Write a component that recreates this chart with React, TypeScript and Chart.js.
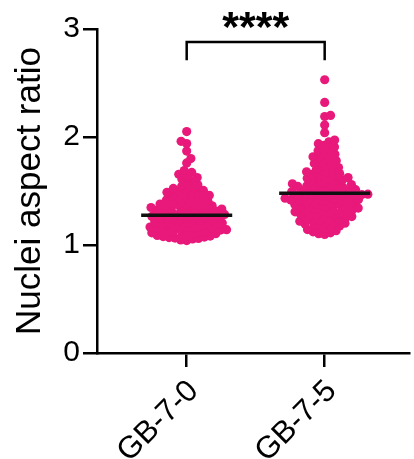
import React, { useEffect, useRef } from "react";
import { Chart, registerables } from "chart.js";

Chart.register(...registerables);

// ---------- data ----------
const categories = ["GB-7-0", "GB-7-5"];

const gb70Values = [
  1.041, 1.047, 1.056, 1.061, 1.064, 1.069, 1.073, 1.078, 1.083, 1.089, 1.095,
  1.101, 1.105, 1.108, 1.113, 1.117, 1.121, 1.125, 1.129, 1.134, 1.138, 1.142, 1.147,
  1.151, 1.155, 1.158, 1.162, 1.166, 1.171, 1.175, 1.179, 1.184, 1.188, 1.192, 1.197,
  1.203, 1.207, 1.211, 1.216, 1.220, 1.225, 1.229, 1.234, 1.238, 1.242, 1.247,
  1.252, 1.256, 1.261, 1.265, 1.270, 1.274, 1.279, 1.283, 1.288, 1.292, 1.297,
  1.302, 1.306, 1.311, 1.315, 1.320, 1.324, 1.329, 1.333, 1.338, 1.342, 1.347,
  1.353, 1.358, 1.363, 1.369, 1.374, 1.379, 1.384, 1.390, 1.395,
  1.404, 1.410, 1.417, 1.424, 1.431, 1.437, 1.444,
  1.454, 1.460, 1.467, 1.474, 1.481, 1.488, 1.495,
  1.505, 1.514, 1.524, 1.533, 1.543,
  1.558, 1.574, 1.590,
  1.608, 1.624, 1.640,
  1.655, 1.672, 1.690,
  1.76, 1.80, 1.87, 1.94, 1.96, 2.05,
];

const gb75Values = [
  1.098, 1.104, 1.113, 1.122, 1.132, 1.143,
  1.153, 1.161, 1.169, 1.177, 1.186, 1.194,
  1.202, 1.208, 1.214, 1.220, 1.227, 1.233, 1.239, 1.246,
  1.252, 1.257, 1.263, 1.268, 1.274, 1.279, 1.285, 1.290, 1.296,
  1.302, 1.307, 1.312, 1.317, 1.322, 1.327, 1.332, 1.337, 1.342, 1.347,
  1.351, 1.356, 1.361, 1.366, 1.371, 1.376, 1.381, 1.386, 1.391, 1.396,
  1.401, 1.405, 1.409, 1.413, 1.417, 1.421, 1.426, 1.430, 1.434, 1.438, 1.442, 1.447,
  1.451, 1.455, 1.459, 1.463, 1.467, 1.471, 1.476, 1.480, 1.484, 1.488, 1.492, 1.497,
  1.502, 1.507, 1.512, 1.517, 1.522, 1.527, 1.532, 1.537, 1.542, 1.547,
  1.553, 1.560, 1.567, 1.574, 1.581, 1.588, 1.595,
  1.603, 1.610, 1.617, 1.624, 1.631, 1.638, 1.645,
  1.654, 1.662, 1.670, 1.678, 1.686, 1.694,
  1.705, 1.717, 1.729, 1.741,
  1.755, 1.767, 1.779, 1.791,
  1.805, 1.817, 1.829, 1.841,
  1.857, 1.872, 1.888,
  1.907, 1.922, 1.938,
  1.955, 1.972,
  2.04, 2.11, 2.19, 2.20, 2.32, 2.53,
];

const medians = [1.275, 1.48];
const yTickValues = [0, 1, 2, 3];
const yTitle = "Nuclei aspect ratio";
const significanceLabel = "****";
const bracketTop = 2.88;
const bracketLeg = 2.71;
const starsCenterY = 3.08;

// ---------- styles ----------
const PINK = "#E8197A";
const FONT = "'Liberation Sans', Arial, Helvetica, sans-serif";
const MEDIAN_HALF = 0.33;
const SWARM_DIST = 6;

function swarmOffsets(values: number[], toPx: (v: number) => number, d: number): number[] {
  const order = values.map((_, i) => i).sort((a, b) => values[a] - values[b]);
  const placed: { x: number; y: number }[] = [];
  const out = new Array(values.length).fill(0);
  let k = 0;
  for (const idx of order) {
    const y = toPx(values[idx]);
    const near = placed.filter((p) => Math.abs(p.y - y) < d);
    const cands: number[] = [0];
    for (const p of near) {
      const dx = Math.sqrt(d * d - (p.y - y) * (p.y - y));
      cands.push(p.x + dx, p.x - dx);
    }
    const sgn = k % 2 === 0 ? 1 : -1;
    cands.sort((a, b) => {
      const da = Math.abs(a) - Math.abs(b);
      if (Math.abs(da) > 1e-6) return da;
      return sgn * (b - a);
    });
    let chosen = 0;
    for (const c of cands) {
      if (near.every((p) => (p.x - c) * (p.x - c) + (p.y - y) * (p.y - y) >= d * d - 0.01)) {
        chosen = c;
        break;
      }
    }
    placed.push({ x: chosen, y });
    out[idx] = chosen;
    k++;
  }
  return out;
}

const starsPlugin = {
  id: "starsPlugin",
  afterDraw(chart: any) {
    const { ctx, scales } = chart;
    const xs = scales.x;
    const ys = scales.y;
    const cx = (xs.getPixelForValue(0) + xs.getPixelForValue(1)) / 2;
    const cy = ys.getPixelForValue(starsCenterY);
    ctx.save();
    ctx.font = `bold 43px ${FONT}`;
    ctx.fillStyle = "#000";
    ctx.textAlign = "center";
    ctx.textBaseline = "alphabetic";
    const m = ctx.measureText(significanceLabel);
    const asc = m.actualBoundingBoxAscent;
    const desc = m.actualBoundingBoxDescent;
    const baseline = cy + (asc - desc) / 2;
    ctx.fillText(significanceLabel, cx, baseline);
    ctx.restore();
  },
};

export default function App() {
  const canvasRef = useRef<HTMLCanvasElement | null>(null);

  useEffect(() => {
    const canvas = canvasRef.current;
    if (!canvas) return;
    const groups = [gb70Values, gb75Values];

    const pointSets = groups.map((vals, i) => ({
      label: categories[i],
      data: vals.map((v) => ({ x: i, y: v })),
      backgroundColor: PINK,
      borderColor: PINK,
      borderWidth: 0,
      pointRadius: 4.6,
      pointHoverRadius: 4.6,
      showLine: false,
      order: 3,
    }));

    const medianSets = medians.map((m, i) => ({
      label: "median " + categories[i],
      data: [
        { x: i - MEDIAN_HALF, y: m },
        { x: i + MEDIAN_HALF, y: m },
      ],
      borderColor: "#111",
      backgroundColor: "#111",
      borderWidth: 3.5,
      pointRadius: 0,
      showLine: true,
      tension: 0,
      borderCapStyle: "butt",
      order: 1,
    }));

    const bracketSet = {
      label: "bracket",
      data: [
        { x: 0, y: bracketLeg },
        { x: 0, y: bracketTop },
        { x: 1, y: bracketTop },
        { x: 1, y: bracketLeg },
      ],
      borderColor: "#000",
      borderWidth: 2.5,
      pointRadius: 0,
      showLine: true,
      tension: 0,
      borderJoinStyle: "miter",
      borderCapStyle: "butt",
      order: 0,
    };

    const axisCommon = {
      grid: {
        display: true,
        drawOnChartArea: false,
        drawTicks: true,
        tickLength: 14,
        color: "#000",
        lineWidth: 2.5,
      },
      border: { display: true, color: "#000", width: 2.5 },
    };

    const chart = new Chart(canvas, {
      type: "scatter",
      data: { datasets: [...pointSets, ...medianSets, bracketSet] as any },
      options: {
        animation: false,
        responsive: false,
        devicePixelRatio: 1,
        events: [],
        layout: { padding: { top: 29, right: 0, bottom: 0, left: 0 } },
        plugins: { legend: { display: false }, tooltip: { enabled: false } },
        scales: {
          x: {
            type: "linear",
            min: -0.65,
            max: 1.614,
            ...axisCommon,
            afterBuildTicks: (s: any) => {
              s.ticks = categories.map((_, i) => ({ value: i }));
            },
            afterFit: (s: any) => {
              s.height = 106;
            },
            ticks: {
              autoSkip: false,
              minRotation: 45,
              maxRotation: 45,
              padding: 6,
              labelOffset: 7,
              color: "#000",
              font: { family: FONT, size: 31 },
              callback: (v: any) => categories[Number(v)] ?? "",
            },
          },
          y: {
            type: "linear",
            min: 0,
            max: 3,
            ...axisCommon,
            afterBuildTicks: (s: any) => {
              s.ticks = yTickValues.map((v) => ({ value: v }));
            },
            afterFit: (s: any) => {
              s.width = 97;
            },
            ticks: {
              padding: 3,
              color: "#000",
              font: { family: FONT, size: 30 },
              callback: (v: any) => String(v),
            },
            title: {
              display: true,
              text: yTitle,
              color: "#000",
              font: { family: FONT, size: 35 },
              padding: { top: 9, bottom: 0 },
            },
          },
        },
      } as any,
      plugins: [starsPlugin],
    });

    // beeswarm layout using the chart's own scales
    const ys = chart.scales.y;
    const xs = chart.scales.x;
    const pxPerX = xs.getPixelForValue(1) - xs.getPixelForValue(0);
    groups.forEach((vals, i) => {
      const offs = swarmOffsets(vals, (v) => ys.getPixelForValue(v), SWARM_DIST);
      (chart.data.datasets[i] as any).data = vals.map((v, j) => ({ x: i + offs[j] / pxPerX, y: v }));
    });
    chart.update();

    return () => chart.destroy();
  }, []);

  return (
    <div style={{ position: "absolute", left: 0, top: 0, width: 414, height: 459, background: "#fff" }}>
      <canvas ref={canvasRef} width={414} height={459} style={{ display: "block" }} />
    </div>
  );
}
